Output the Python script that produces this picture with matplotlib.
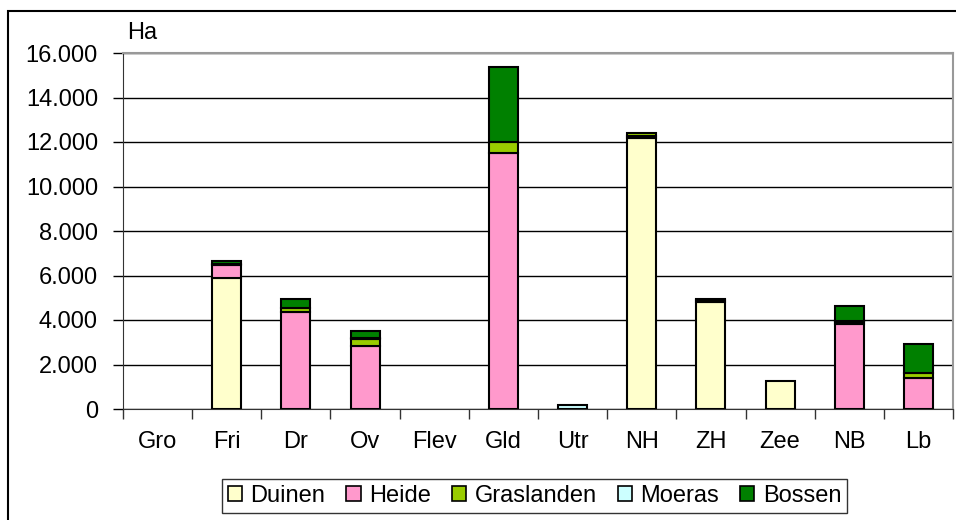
import numpy as np
import matplotlib.pyplot as plt
from matplotlib.patches import Rectangle
from matplotlib.ticker import FuncFormatter

plt.rcParams['font.family'] = ['Liberation Sans', 'DejaVu Sans']

# provinces and area (ha) per habitat type
provinces = ['Gro', 'Fri', 'Dr', 'Ov', 'Flev', 'Gld', 'Utr', 'NH', 'ZH', 'Zee', 'NB', 'Lb']
duinen     = [0, 5900,    0,    0, 0,     0,   0, 12200, 4830, 1250,    0,    0]
heide      = [0,  550, 4380, 2830, 0, 11500,   0,    50,    0,    0, 3820, 1400]
graslanden = [0,   50,  150,  330, 0,   480,   0,   150,   70,    0,  100,  200]
moeras     = [0,    0,    0,   20, 0,     0, 180,     0,    0,    0,   30,    0]
bossen     = [0,  150,  400,  320, 0,  3390,   0,     0,   50,    0,  700, 1330]

series = [('Duinen', duinen, '#FFFFCC'),
          ('Heide', heide, '#FF99CC'),
          ('Graslanden', graslanden, '#99CC00'),
          ('Moeras', moeras, '#CCFFFF'),
          ('Bossen', bossen, '#008000')]

W, H = 956, 520
FS = 17
fig = plt.figure(figsize=(W / 100, H / 100), dpi=100)

# outer chart border
fig.patches.append(Rectangle((8 / W, -0.05), 1.1, 1 - 11 / H + 0.05, transform=fig.transFigure,
                             fill=False, edgecolor='black', linewidth=1.5))

ax = fig.add_axes([123 / W, 1 - 409 / H, (953 - 123) / W, (409 - 53) / H])

x = np.arange(len(provinces))
bottom = np.zeros(len(provinces))
for name, vals, col in series:
    vals = np.array(vals, dtype=float)
    edges = ['black' if v > 0 else 'none' for v in vals]
    ax.bar(x, vals, 0.42, bottom=bottom, color=col, edgecolor=edges, linewidth=1.5,
           label=name, zorder=3)
    bottom += vals

ax.set_xlim(-0.5, len(provinces) - 0.5)
ax.set_ylim(0, 16000)
ax.set_yticks(np.arange(0, 16001, 2000))
ax.yaxis.set_major_formatter(FuncFormatter(lambda v, p: f'{int(v):,}'.replace(',', '.')))
ax.yaxis.grid(True, color='black', linewidth=1, zorder=0)

ax.set_xticks(x)
ax.set_xticklabels(provinces)
ax.set_xticks(np.arange(-0.5, len(provinces)), minor=True)
ax.tick_params(axis='x', which='major', length=0, pad=16, labelsize=FS)
ax.tick_params(axis='x', which='minor', length=7, width=1, color='#333333', direction='out')
ax.tick_params(axis='y', length=7, width=1, direction='out', labelsize=FS, pad=11)

for s in ['top', 'right']:
    ax.spines[s].set_color('#999999')
    ax.spines[s].set_linewidth(1.5)
ax.spines['left'].set_color('#333333')
ax.spines['bottom'].set_color('#333333')

fig.text(127 / W, 1 - 33 / H, 'Ha', fontsize=FS, ha='left', va='center')

leg = fig.legend(loc='upper left', bbox_to_anchor=(222 / W, 1 - 479 / H), ncol=5, fontsize=FS,
                 frameon=True, fancybox=False, edgecolor='black', handlelength=0.6,
                 handleheight=0.6, handletextpad=0.35, columnspacing=0.9, borderpad=0.25,
                 borderaxespad=0)
leg.get_frame().set_linewidth(1)
for h in leg.legend_handles:
    h.set_edgecolor('black')
    h.set_linewidth(1.2)

fig.savefig('out.png', dpi=100)
